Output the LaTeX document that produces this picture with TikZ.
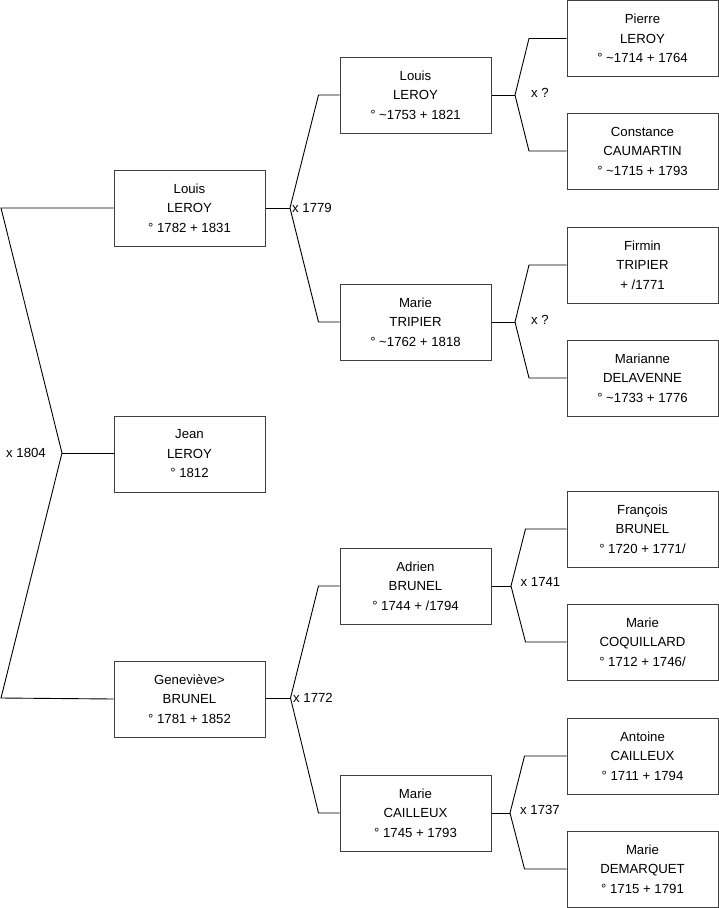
\documentclass[tikz,border=0pt]{standalone}
\usepackage{fontspec}
\setmainfont{Liberation Sans}
\begin{document}
\begin{tikzpicture}[x=1pt,y=-1pt,
  person/.style={draw=black!75, line width=1pt, rectangle, minimum width=151pt, minimum height=76pt,
    inner sep=0pt, align=center, font=\fontsize{13.2}{19.5}\selectfont},
  link/.style={draw=black, line width=0.9pt},
  lbl/.style={inner sep=0pt, font=\fontsize{13.2}{15}\selectfont}]
\useasboundingbox (0,0) rectangle (719,908);
% generation 1
\node[person] (g1a) at (189.5,208) {Louis\\LEROY\\° 1782 + 1831};
\node[person] (g1b) at (189.5,454) {Jean\\LEROY\\° 1812};
\node[person] (g1c) at (189.5,699) {Geneviève>\\BRUNEL\\° 1781 + 1852};
% generation 2
\node[person] (g2a) at (415.5,95) {Louis\\LEROY\\° \textasciitilde1753 + 1821};
\node[person] (g2b) at (415.5,322) {Marie\\TRIPIER\\° \textasciitilde1762 + 1818};
\node[person] (g2c) at (415.5,586) {Adrien\\BRUNEL\\° 1744 + /1794};
\node[person] (g2d) at (415.5,813) {Marie\\CAILLEUX\\° 1745 + 1793};
% generation 3
\node[person] (g3a) at (642.5,38.5) {Pierre\\LEROY\\° \textasciitilde1714 + 1764};
\node[person] (g3b) at (642.5,151) {Constance\\CAUMARTIN\\° \textasciitilde1715 + 1793};
\node[person] (g3c) at (642.5,265) {Firmin\\TRIPIER\\+ /1771};
\node[person] (g3d) at (642.5,378) {Marianne\\DELAVENNE\\° \textasciitilde1733 + 1776};
\node[person] (g3e) at (642.5,529) {François\\BRUNEL\\° 1720 + 1771/};
\node[person] (g3f) at (642.5,642) {Marie\\COQUILLARD\\° 1712 + 1746/};
\node[person] (g3g) at (642.5,756) {Antoine\\CAILLEUX\\° 1711 + 1794};
\node[person] (g3h) at (642.5,869) {Marie\\DEMARQUET\\° 1715 + 1791};
% root fork
\coordinate (v0) at (62,453);
\coordinate (a0) at (1,208);
\coordinate (b0) at (1,698);
\draw[link] (g1a.west) -- (a0) -- (v0) -- (b0) -- (g1c.west);
\draw[link] (v0) -- (g1b.west |- v0);
\node[lbl, anchor=east] (m0) at (46,453) {x 1804};
% Louis LEROY fork
\coordinate (v1) at (290,208);
\coordinate (a1) at (318.5,95);
\coordinate (b1) at (318.5,322);
\draw[link] (g1a.east) -- (v1);
\draw[link] (g2a.west) -- (a1) -- (v1) -- (b1) -- (g2b.west);
\node[lbl, anchor=west] (m1) at (292,208) {x 1779};
% Genevieve fork
\coordinate (v2) at (290.5,698);
\coordinate (a2) at (318.5,586);
\coordinate (b2) at (318.5,813);
\draw[link] (g1c.east |- v2) -- (v2);
\draw[link] (g2c.west) -- (a2) -- (v2) -- (b2) -- (g2d.west);
\node[lbl, anchor=west] (m2) at (293,698) {x 1772};
% gen2 forks
\coordinate (v3) at (515,95);
\coordinate (a3) at (529,38.5);
\coordinate (b3) at (529,151);
\draw[link] (g2a.east) -- (v3);
\draw[link] (g3a.west) -- (a3) -- (v3) -- (b3) -- (g3b.west);
\node[lbl, anchor=west] (m3) at (531,93) {x ?};
\coordinate (v4) at (515,322);
\coordinate (a4) at (529,265);
\coordinate (b4) at (529,378);
\draw[link] (g2b.east) -- (v4);
\draw[link] (g3c.west) -- (a4) -- (v4) -- (b4) -- (g3d.west);
\node[lbl, anchor=west] (m4) at (531,320) {x ?};
\coordinate (v5) at (511,586);
\coordinate (a5) at (525.5,529);
\coordinate (b5) at (525.5,642);
\draw[link] (g2c.east) -- (v5);
\draw[link] (g3e.west) -- (a5) -- (v5) -- (b5) -- (g3f.west);
\node[lbl, anchor=west] (m5) at (520.5,582) {x 1741};
\coordinate (v6) at (510,813);
\coordinate (a6) at (524.5,756);
\coordinate (b6) at (524.5,869);
\draw[link] (g2d.east) -- (v6);
\draw[link] (g3g.west) -- (a6) -- (v6) -- (b6) -- (g3h.west);
\node[lbl, anchor=west] (m6) at (520,810) {x 1737};
\end{tikzpicture}
\end{document}
